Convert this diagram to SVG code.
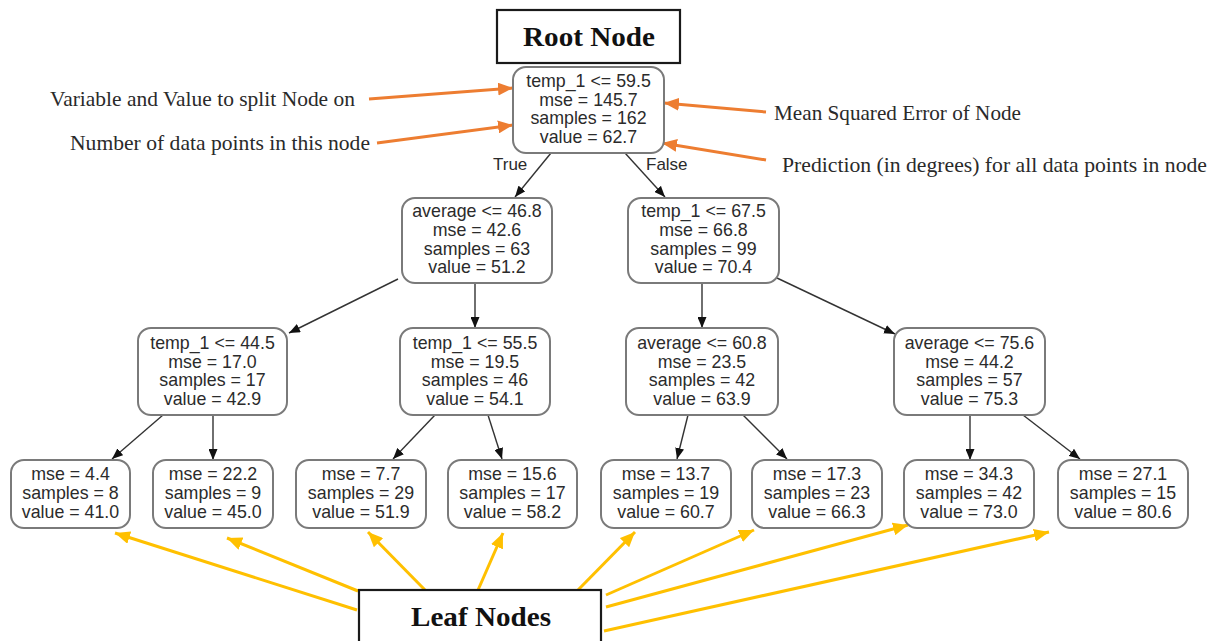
<svg xmlns="http://www.w3.org/2000/svg" width="1220" height="641" viewBox="0 0 1220 641">
<defs>
<style>
.node rect{fill:#fff;stroke:#7a7a7a;stroke-width:2}
.node text{font-family:"Liberation Sans",Arial,sans-serif;font-size:17.8px;fill:#2b2b2b;text-anchor:middle}
.edge{stroke:#333;stroke-width:1.4;fill:none;marker-end:url(#blk)}
.elab{font-family:"Liberation Sans",Arial,sans-serif;font-size:17px;fill:#2b2b2b}
.box{fill:#fff;stroke:#1a1a1a;stroke-width:2.2}
.title{font-family:"Liberation Serif","DejaVu Serif",serif;font-weight:bold;font-size:27px;fill:#111;text-anchor:middle}
.ann{font-family:"Liberation Serif","DejaVu Serif",serif;font-size:21px;fill:#2a2a2a}
.org{stroke:#ED7D31;stroke-width:3;fill:none;marker-end:url(#oa)}
.yel{stroke:#FFC000;stroke-width:3;fill:none;marker-end:url(#ya)}
</style>
<marker id="blk" markerUnits="userSpaceOnUse" markerWidth="11" markerHeight="9" refX="11" refY="4.5" orient="auto"><path d="M0,0 L11,4.5 L0,9 z" fill="#111"/></marker>
<marker id="oa" markerUnits="userSpaceOnUse" markerWidth="15" markerHeight="13" refX="15" refY="6.5" orient="auto"><path d="M0,0 L15,6.5 L0,13 z" fill="#ED7D31"/></marker>
<marker id="ya" markerUnits="userSpaceOnUse" markerWidth="15" markerHeight="13" refX="15" refY="6.5" orient="auto"><path d="M0,0 L15,6.5 L0,13 z" fill="#FFC000"/></marker>
</defs>
<rect width="1220" height="641" fill="#fff"/>

<g id="connectors">
<path class="edge" d="M551,153 L515,197"/>
<path class="edge" d="M625,153 L665,197"/>
<path class="edge" d="M398,279 L289,333"/>
<path class="edge" d="M475,283 L475,328"/>
<path class="edge" d="M702,283 L702,328"/>
<path class="edge" d="M777,278 L895,334"/>
<path class="edge" d="M163,415 L112,459"/>
<path class="edge" d="M213,415 L213,460"/>
<path class="edge" d="M435,415 L393,459"/>
<path class="edge" d="M488,415 L502,459"/>
<path class="edge" d="M688,415 L677,459"/>
<path class="edge" d="M743,415 L787,459"/>
<path class="edge" d="M970,415 L970,460"/>
<path class="edge" d="M1023,415 L1080,459"/>
<text class="elab" x="493" y="170">True</text>
<text class="elab" x="646" y="170">False</text>
<path class="org" d="M369,99 L513,88"/>
<path class="org" d="M377,143 L513,125"/>
<path class="org" d="M766,112 L664,103"/>
<path class="org" d="M766,160 L662,143"/>
<path class="yel" d="M357,610 L115,533"/>
<path class="yel" d="M358,591 L227,538"/>
<path class="yel" d="M425,590 L368,532"/>
<path class="yel" d="M478,590 L503,533"/>
<path class="yel" d="M578,590 L635,532"/>
<path class="yel" d="M606,595 L754,530"/>
<path class="yel" d="M606,607 L908,525"/>
<path class="yel" d="M604,631 L1049,532"/>
</g>

<g id="annotations">
<text class="ann" x="50" y="106" textLength="305" lengthAdjust="spacingAndGlyphs">Variable and Value to split Node on</text>
<text class="ann" x="70" y="150" textLength="300" lengthAdjust="spacingAndGlyphs">Number of data points in this node</text>
<text class="ann" x="774" y="120" textLength="247" lengthAdjust="spacingAndGlyphs">Mean Squared Error of Node</text>
<text class="ann" x="782" y="172" textLength="425" lengthAdjust="spacingAndGlyphs">Prediction (in degrees) for all data points in node</text>
</g>

<g id="root-label">
<rect class="box" x="497" y="10" width="183" height="53"/>
<text class="title" x="589" y="46" textLength="132" lengthAdjust="spacingAndGlyphs">Root Node</text>
</g>
<g id="leaf-label">
<rect class="box" x="359" y="590" width="242" height="60"/>
<text class="title" x="481" y="626" textLength="140" lengthAdjust="spacingAndGlyphs">Leaf Nodes</text>
</g>

<g id="n0" class="node">
<rect x="513" y="67" width="151" height="86" rx="13"/>
<text x="588.5" y="87">temp_1 &lt;= 59.5</text>
<text x="588.5" y="105.5">mse = 145.7</text>
<text x="588.5" y="124">samples = 162</text>
<text x="588.5" y="142.5">value = 62.7</text>
</g>
<g id="n1" class="node">
<rect x="402" y="198" width="150" height="85" rx="13"/>
<text x="477" y="217">average &lt;= 46.8</text>
<text x="477" y="236">mse = 42.6</text>
<text x="477" y="255">samples = 63</text>
<text x="477" y="273">value = 51.2</text>
</g>
<g id="n2" class="node">
<rect x="628" y="198" width="151" height="85" rx="13"/>
<text x="703.5" y="217">temp_1 &lt;= 67.5</text>
<text x="703.5" y="236">mse = 66.8</text>
<text x="703.5" y="255">samples = 99</text>
<text x="703.5" y="273">value = 70.4</text>
</g>
<g id="n3" class="node">
<rect x="138" y="328" width="149" height="87" rx="13"/>
<text x="212.5" y="349">temp_1 &lt;= 44.5</text>
<text x="212.5" y="368">mse = 17.0</text>
<text x="212.5" y="386">samples = 17</text>
<text x="212.5" y="405">value = 42.9</text>
</g>
<g id="n4" class="node">
<rect x="400" y="328" width="150" height="87" rx="13"/>
<text x="475" y="349">temp_1 &lt;= 55.5</text>
<text x="475" y="368">mse = 19.5</text>
<text x="475" y="386">samples = 46</text>
<text x="475" y="405">value = 54.1</text>
</g>
<g id="n5" class="node">
<rect x="626" y="328" width="152" height="87" rx="13"/>
<text x="702" y="349">average &lt;= 60.8</text>
<text x="702" y="368">mse = 23.5</text>
<text x="702" y="386">samples = 42</text>
<text x="702" y="405">value = 63.9</text>
</g>
<g id="n6" class="node">
<rect x="894" y="328" width="151" height="87" rx="13"/>
<text x="969.5" y="349">average &lt;= 75.6</text>
<text x="969.5" y="368">mse = 44.2</text>
<text x="969.5" y="386">samples = 57</text>
<text x="969.5" y="405">value = 75.3</text>
</g>
<g id="leaf1" class="node">
<rect x="11" y="460" width="119" height="68" rx="13"/>
<text x="70.5" y="480">mse = 4.4</text>
<text x="70.5" y="499">samples = 8</text>
<text x="70.5" y="518">value = 41.0</text>
</g>
<g id="leaf2" class="node">
<rect x="153" y="460" width="120" height="68" rx="13"/>
<text x="213" y="480">mse = 22.2</text>
<text x="213" y="499">samples = 9</text>
<text x="213" y="518">value = 45.0</text>
</g>
<g id="leaf3" class="node">
<rect x="296" y="460" width="130" height="68" rx="13"/>
<text x="361" y="480">mse = 7.7</text>
<text x="361" y="499">samples = 29</text>
<text x="361" y="518">value = 51.9</text>
</g>
<g id="leaf4" class="node">
<rect x="448" y="460" width="129" height="68" rx="13"/>
<text x="512.5" y="480">mse = 15.6</text>
<text x="512.5" y="499">samples = 17</text>
<text x="512.5" y="518">value = 58.2</text>
</g>
<g id="leaf5" class="node">
<rect x="601" y="460" width="130" height="68" rx="13"/>
<text x="666" y="480">mse = 13.7</text>
<text x="666" y="499">samples = 19</text>
<text x="666" y="518">value = 60.7</text>
</g>
<g id="leaf6" class="node">
<rect x="752" y="460" width="130" height="68" rx="13"/>
<text x="817" y="480">mse = 17.3</text>
<text x="817" y="499">samples = 23</text>
<text x="817" y="518">value = 66.3</text>
</g>
<g id="leaf7" class="node">
<rect x="904" y="460" width="130" height="68" rx="13"/>
<text x="969" y="480">mse = 34.3</text>
<text x="969" y="499">samples = 42</text>
<text x="969" y="518">value = 73.0</text>
</g>
<g id="leaf8" class="node">
<rect x="1058" y="460" width="130" height="68" rx="13"/>
<text x="1123" y="480">mse = 27.1</text>
<text x="1123" y="499">samples = 15</text>
<text x="1123" y="518">value = 80.6</text>
</g>
</svg>
